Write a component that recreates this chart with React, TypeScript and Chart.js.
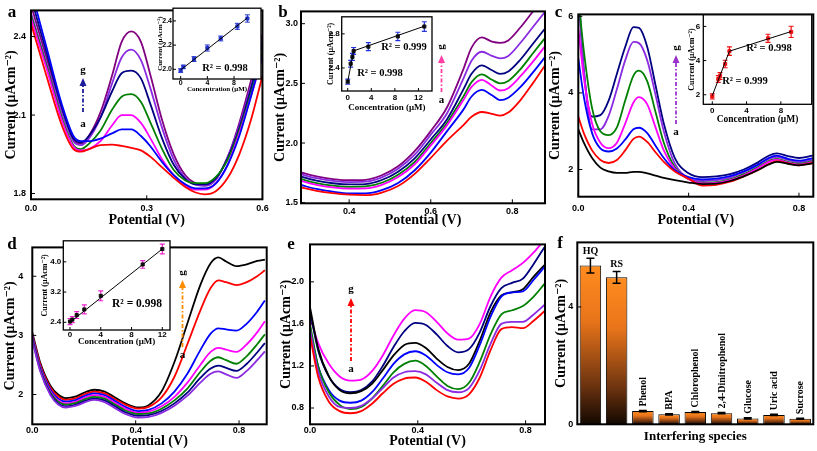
import React, { useEffect, useRef } from 'react';
import { Chart, registerables } from 'chart.js';
Chart.register(...registerables);

const SERIF = '"Liberation Serif", "Times New Roman", "DejaVu Serif", serif';
const SANS = '"Liberation Sans", Arial, "DejaVu Sans", sans-serif';

const RED = '#ff0000', BLUE = '#0000ff', MAGENTA = '#ff00ff', GREEN = '#008000', NAVY = '#000080', VIOLET = '#8a2be2', PURPLE = '#800080', BLACK = '#000000';

// ---------- Panel a ----------
const aX = [0, 0.04, 0.08, 0.11, 0.13, 0.15, 0.18, 0.21, 0.235, 0.26, 0.285, 0.31, 0.34, 0.37, 0.40, 0.425, 0.45, 0.48, 0.51, 0.54, 0.57, 0.6];
const aRed = [2.45, 2.25, 2.06, 1.97, 1.96, 1.97, 1.985, 1.987, 1.982, 1.975, 1.965, 1.94, 1.9, 1.86, 1.825, 1.805, 1.797, 1.81, 1.86, 1.95, 2.08, 2.25];
const aBlue = [2.58, 2.36, 2.14, 2.02, 2.0, 2.0, 2.01, 2.03, 2.045, 2.045, 2.02, 1.98, 1.92, 1.87, 1.835, 1.82, 1.82, 1.84, 1.91, 2.02, 2.17, 2.33];
const aMagenta = [2.47, 2.28, 2.08, 1.98, 1.965, 1.97, 2.0, 2.06, 2.1, 2.1, 2.07, 2.01, 1.93, 1.87, 1.83, 1.815, 1.815, 1.84, 1.91, 2.03, 2.17, 2.32];
const aGreen = [2.48, 2.29, 2.09, 1.985, 1.97, 1.99, 2.04, 2.12, 2.17, 2.18, 2.15, 2.07, 1.97, 1.89, 1.85, 1.84, 1.84, 1.865, 1.93, 2.04, 2.18, 2.34];
const aNavy = [2.55, 2.34, 2.13, 2.01, 1.995, 2.02, 2.09, 2.19, 2.26, 2.27, 2.24, 2.14, 2.01, 1.91, 1.855, 1.835, 1.835, 1.86, 1.935, 2.05, 2.2, 2.37];
const aViolet = [2.49, 2.3, 2.11, 2.0, 1.985, 2.01, 2.09, 2.22, 2.32, 2.35, 2.31, 2.2, 2.05, 1.93, 1.86, 1.835, 1.83, 1.855, 1.94, 2.06, 2.21, 2.39];
const aPurple = [2.52, 2.32, 2.12, 2.005, 1.99, 2.02, 2.11, 2.25, 2.38, 2.42, 2.38, 2.25, 2.08, 1.95, 1.87, 1.84, 1.83, 1.855, 1.94, 2.07, 2.23, 2.41];
const aXTicks = [0, 0.3, 0.6];
const aYTicks = [1.8, 2.1, 2.4];

// ---------- Panel b ----------
const bX = [0.28, 0.32, 0.36, 0.40, 0.44, 0.48, 0.52, 0.56, 0.60, 0.64, 0.68, 0.70, 0.725, 0.75, 0.77, 0.79, 0.82, 0.85, 0.88];
const bRed = [1.63, 1.6, 1.58, 1.567, 1.563, 1.585, 1.64, 1.74, 1.876, 2.02, 2.15, 2.22, 2.26, 2.245, 2.23, 2.255, 2.36, 2.5, 2.65];
const bBlue = [1.65, 1.615, 1.592, 1.578, 1.578, 1.605, 1.665, 1.77, 1.92, 2.1, 2.28, 2.39, 2.445, 2.4, 2.36, 2.38, 2.47, 2.59, 2.72];
const bMagenta = [1.685, 1.65, 1.628, 1.618, 1.62, 1.65, 1.715, 1.82, 1.98, 2.15, 2.36, 2.47, 2.53, 2.48, 2.44, 2.46, 2.56, 2.68, 2.81];
const bGreen = [1.7, 1.665, 1.643, 1.633, 1.636, 1.667, 1.735, 1.84, 2.0, 2.17, 2.39, 2.51, 2.575, 2.53, 2.5, 2.52, 2.62, 2.75, 2.88];
const bNavy = [1.72, 1.685, 1.663, 1.653, 1.656, 1.69, 1.76, 1.87, 2.03, 2.2, 2.45, 2.58, 2.65, 2.61, 2.58, 2.6, 2.7, 2.83, 2.96];
const bViolet = [1.74, 1.705, 1.683, 1.673, 1.676, 1.712, 1.785, 1.9, 2.07, 2.25, 2.54, 2.69, 2.765, 2.73, 2.71, 2.73, 2.84, 2.97, 3.1];
const bPurple = [1.755, 1.72, 1.698, 1.688, 1.692, 1.73, 1.805, 1.93, 2.1, 2.3, 2.62, 2.8, 2.885, 2.85, 2.84, 2.86, 2.97, 3.1, 3.22];
const bXTicks = [0.4, 0.6, 0.8];
const bYTicks = [1.5, 2.0, 2.5, 3.0];

// ---------- Panel c ----------
const cX = [0, 0.02, 0.05, 0.08, 0.11, 0.14, 0.17, 0.2, 0.22, 0.25, 0.28, 0.31, 0.35, 0.4, 0.45, 0.5, 0.55, 0.6, 0.65, 0.69, 0.72, 0.76, 0.8, 0.85];
const cBlack = [3.05, 2.7, 2.3, 2.05, 1.95, 1.91, 1.91, 1.94, 1.94, 1.9, 1.84, 1.78, 1.72, 1.66, 1.62, 1.63, 1.7, 1.82, 1.98, 2.13, 2.2, 2.15, 2.11, 2.16];
const cRed = [3.38, 2.95, 2.5, 2.25, 2.17, 2.25, 2.5, 2.8, 2.86, 2.72, 2.45, 2.2, 1.95, 1.76, 1.58, 1.6, 1.68, 1.82, 1.98, 2.14, 2.22, 2.16, 2.11, 2.17];
const cBlue = [4.9, 3.9, 2.95, 2.55, 2.47, 2.55, 2.78, 3.05, 3.09, 2.95, 2.62, 2.3, 1.98, 1.8, 1.74, 1.76, 1.83, 1.95, 2.12, 2.3, 2.36, 2.28, 2.23, 2.3];
const cMagenta = [5.7, 4.4, 3.2, 2.7, 2.56, 2.7, 3.2, 3.75, 3.89, 3.7, 3.1, 2.5, 2.02, 1.75, 1.64, 1.65, 1.72, 1.85, 2.03, 2.2, 2.26, 2.18, 2.13, 2.19];
const cGreen = [6.5, 5.1, 3.6, 3.0, 2.9, 3.1, 3.8, 4.45, 4.58, 4.3, 3.5, 2.7, 2.06, 1.75, 1.66, 1.67, 1.74, 1.88, 2.06, 2.22, 2.28, 2.2, 2.15, 2.21];
const cViolet = [6.6, 4.6, 3.05, 3.05, 3.4, 4.1, 4.85, 5.33, 5.3, 4.85, 3.95, 3.0, 2.15, 1.78, 1.7, 1.72, 1.79, 1.93, 2.11, 2.27, 2.33, 2.25, 2.19, 2.25];
const cNavy = [6.8, 4.6, 3.38, 3.42, 3.8, 4.5, 5.2, 5.72, 5.7, 5.2, 4.2, 3.2, 2.3, 1.9, 1.8, 1.82, 1.88, 2.0, 2.18, 2.36, 2.42, 2.35, 2.3, 2.36];
const cXTicks = [0, 0.4, 0.8];
const cYTicks = [2, 4, 6];

// ---------- Panel d ----------
const dX = [0, 0.03, 0.07, 0.1, 0.13, 0.17, 0.21, 0.24, 0.28, 0.32, 0.36, 0.41, 0.45, 0.5, 0.55, 0.6, 0.65, 0.69, 0.72, 0.75, 0.79, 0.83, 0.87, 0.9];
const dBlack = [3.05, 2.55, 2.15, 2.0, 1.94, 1.97, 2.05, 2.08, 2.05, 1.95, 1.85, 1.78, 1.82, 2.05, 2.55, 3.2, 3.85, 4.22, 4.32, 4.25, 4.17, 4.2, 4.26, 4.28];
const dRed = [3.02, 2.52, 2.12, 1.97, 1.91, 1.94, 2.02, 2.05, 2.02, 1.92, 1.83, 1.76, 1.79, 1.95, 2.3, 2.85, 3.42, 3.8, 3.93, 3.9, 3.85, 3.9, 4.0, 4.1];
const dBlue = [3.0, 2.48, 2.08, 1.93, 1.88, 1.91, 1.99, 2.02, 1.99, 1.89, 1.79, 1.72, 1.74, 1.85, 2.05, 2.35, 2.75, 3.03, 3.12, 3.1, 3.08, 3.2, 3.4, 3.59];
const dMagenta = [2.98, 2.46, 2.05, 1.9, 1.85, 1.88, 1.96, 1.99, 1.96, 1.86, 1.76, 1.69, 1.71, 1.8, 1.96, 2.2, 2.5, 2.72, 2.79, 2.76, 2.72, 2.85, 3.05, 3.24];
const dGreen = [2.96, 2.44, 2.03, 1.88, 1.83, 1.86, 1.93, 1.96, 1.93, 1.83, 1.73, 1.67, 1.68, 1.76, 1.9, 2.1, 2.38, 2.57, 2.63, 2.58, 2.52, 2.65, 2.85, 3.02];
const dNavy = [2.94, 2.42, 2.01, 1.85, 1.8, 1.83, 1.9, 1.93, 1.9, 1.8, 1.7, 1.64, 1.65, 1.72, 1.85, 2.03, 2.28, 2.44, 2.49, 2.45, 2.4, 2.52, 2.71, 2.87];
const dViolet = [2.92, 2.4, 1.99, 1.83, 1.78, 1.81, 1.88, 1.91, 1.87, 1.77, 1.67, 1.61, 1.62, 1.69, 1.81, 1.98, 2.2, 2.35, 2.39, 2.34, 2.28, 2.4, 2.58, 2.73];
const dXTicks = [0, 0.4, 0.8];
const dYTicks = [2, 3, 4];

// ---------- Panel e ----------
const eX = [0, 0.03, 0.07, 0.11, 0.15, 0.19, 0.23, 0.27, 0.31, 0.35, 0.39, 0.43, 0.47, 0.51, 0.55, 0.59, 0.63, 0.67, 0.71, 0.75, 0.79, 0.83, 0.87];
const eMagenta = [1.67, 1.42, 1.22, 1.1, 1.06, 1.07, 1.15, 1.3, 1.49, 1.65, 1.73, 1.71, 1.62, 1.51, 1.45, 1.46, 1.6, 1.86, 2.04, 2.11, 2.18, 2.28, 2.4];
const eNavy = [1.72, 1.35, 1.1, 0.98, 0.95, 0.97, 1.05, 1.2, 1.38, 1.53, 1.61, 1.59, 1.5, 1.39, 1.33, 1.36, 1.52, 1.77, 1.94, 1.99, 2.03, 2.17, 2.33];
const eBlack = [1.76, 1.37, 1.1, 0.97, 0.94, 0.96, 1.03, 1.16, 1.3, 1.4, 1.42, 1.37, 1.27, 1.19, 1.16, 1.22, 1.44, 1.71, 1.87, 1.9, 1.93, 2.05, 2.16];
const eBlue = [1.55, 1.2, 0.97, 0.87, 0.85, 0.87, 0.95, 1.08, 1.22, 1.31, 1.34, 1.3, 1.21, 1.14, 1.12, 1.18, 1.4, 1.67, 1.86, 1.9, 1.91, 2.02, 2.14];
const eGreen = [1.6, 1.2, 0.95, 0.83, 0.79, 0.81, 0.89, 1.01, 1.14, 1.22, 1.25, 1.2, 1.1, 1.01, 0.98, 1.04, 1.24, 1.5, 1.69, 1.73, 1.77, 1.86, 1.98];
const eViolet = [1.55, 1.15, 0.91, 0.81, 0.8, 0.82, 0.89, 0.99, 1.09, 1.14, 1.15, 1.12, 1.04, 0.97, 0.95, 0.99, 1.16, 1.41, 1.6, 1.62, 1.62, 1.69, 1.78];
const eRed = [1.49, 1.1, 0.86, 0.77, 0.75, 0.77, 0.84, 0.94, 1.03, 1.08, 1.09, 1.05, 0.97, 0.91, 0.89, 0.93, 1.09, 1.35, 1.55, 1.57, 1.56, 1.63, 1.72];
const eXTicks = [0, 0.4, 0.8];
const eYTicks = [0.8, 1.2, 1.6, 2.0];

// ---------- Panel f ----------
const fSpecies = ['HQ', 'RS', 'Phenol', 'BPA', 'Chlorophenol', '2,4-Dinitrophenol', 'Glucose', 'Uric acid', 'Sucrose'];
const fCurrent = [5.41, 5.01, 0.45, 0.34, 0.42, 0.38, 0.2, 0.32, 0.19];
const fError = [0.25, 0.2, 0.02, 0.02, 0.02, 0.02, 0.02, 0.02, 0.02];
const fYTicks = [0, 4];

// ---------- Insets ----------
const aInsConc = [0, 0.4, 2, 4, 6, 8.5, 10];
const aInsCur = [1.99, 2.02, 2.085, 2.176, 2.255, 2.355, 2.42];
const aInsErr = [0.015, 0.015, 0.02, 0.025, 0.02, 0.025, 0.03];
const aFitX = [0, 10];
const aFitY = [1.995, 2.425];
const aInsXTicks = [0, 4, 8];
const aInsYTicks = [2.0, 2.2, 2.4];

const bInsConc = [0, 0.5, 0.8, 1.0, 3.5, 8.5, 13];
const bInsCur = [2.24, 2.45, 2.53, 2.6, 2.65, 2.77, 2.886];
const bInsErr = [0.03, 0.04, 0.04, 0.04, 0.047, 0.049, 0.056];
const bFit1X = [0, 1.0];
const bFit1Y = [2.24, 2.6];
const bFit2X = [1.0, 13];
const bFit2Y = [2.6, 2.89];
const bInsXTicks = [0, 4, 8, 12];
const bInsYTicks = [2.4, 2.8];

const cInsConc = [0, 0.7, 0.9, 1.5, 2.0, 6.5, 9.2];
const cInsCur = [1.9, 2.92, 3.1, 3.8, 4.55, 5.3, 5.68];
const cInsErr = [0.15, 0.2, 0.2, 0.22, 0.25, 0.24, 0.33];
const cFit1X = [0, 2.0];
const cFit1Y = [1.95, 4.55];
const cFit2X = [2.0, 9.2];
const cFit2Y = [4.55, 5.7];
const cInsXTicks = [0, 4, 8];
const cInsYTicks = [2, 4, 6];

const dInsConc = [0, 0.3, 0.87, 1.86, 4, 9.45, 12];
const dInsCur = [2.42, 2.47, 2.59, 2.74, 3.1, 3.93, 4.34];
const dInsErr = [0.08, 0.08, 0.09, 0.12, 0.13, 0.1, 0.13];
const dFitX = [0, 12];
const dFitY = [2.4, 4.34];
const dInsXTicks = [0, 4, 8, 12];
const dInsYTicks = [2.4, 3.2, 4.0];

// ---------- helpers ----------
type Area = { l: number; t: number; r: number; b: number };
type Geom = { left: number; top: number; width: number; height: number; yW: number; xH: number; pt: number; pr: number; yTitlePad: number; xTitlePad: number };

function geom(a: Area, yTitleX: number, xTitleY: number, yLH: number, xLH: number): Geom {
  const left = Math.floor(yTitleX - yLH / 2 - 1);
  const top = Math.floor(a.t - 3);
  const right = Math.ceil(a.r + 3);
  const bottom = Math.ceil(xTitleY + xLH / 2 + 1);
  return {
    left, top, width: right - left, height: bottom - top,
    yW: a.l - left, xH: bottom - a.b, pt: a.t - top, pr: right - a.r,
    yTitlePad: yTitleX - left - yLH / 2, xTitlePad: bottom - xTitleY - xLH / 2,
  };
}

const pts = (xs: number[], ys: number[]) => xs.map((x, i) => ({ x, y: ys[i] }));
const curve = (xs: number[], ys: number[], color: string) => ({
  data: pts(xs, ys), borderColor: color, borderWidth: 1.8, pointRadius: 0,
  cubicInterpolationMode: 'monotone', fill: false,
});
const fitLine = (xs: number[], ys: number[]) => ({
  data: pts(xs, ys), borderColor: '#000', borderWidth: 1, pointRadius: 0, tension: 0, fill: false,
});
const markers = (xs: number[], ys: number[], color: string) => ({
  data: pts(xs, ys), showLine: false, pointStyle: 'rect', pointRadius: 2.2,
  pointBackgroundColor: color, pointBorderColor: color, borderColor: color, backgroundColor: color,
});

function axis(o: any) {
  return {
    type: 'linear', min: o.min, max: o.max,
    afterFit: (s: any) => { if (o.horizontal) s.height = o.size; else s.width = o.size; },
    afterBuildTicks: (s: any) => { s.ticks = o.ticks.map((v: number) => ({ value: v })); },
    grid: { display: false, drawTicks: false },
    border: { display: false },
    ticks: {
      padding: o.tickPad, font: o.tickFont, color: '#000', autoSkip: false, maxRotation: 0,
      callback: (v: any) => Number(v).toFixed(o.digits),
    },
    title: {
      display: true, text: o.title, font: o.titleFont, color: '#000',
      padding: o.horizontal ? { top: 0, bottom: o.titlePad } : { top: o.titlePad, bottom: 0 },
    },
  };
}

type Txt = { text: string; x: number; y: number; font: string; rot?: number; color?: string };

function decoPlugin(d: any) {
  const drawErr = (chart: any) => {
    const e = d.err;
    if (!e) return;
    const { ctx } = chart;
    const xs = chart.scales.x, ys = chart.scales.y;
    const meta = chart.getDatasetMeta(0);
    ctx.save();
    ctx.strokeStyle = e.color;
    ctx.lineWidth = e.lw;
    e.ys.forEach((v: number, i: number) => {
      const px = e.xs ? xs.getPixelForValue(e.xs[i]) : meta.data[i].x;
      const p1 = ys.getPixelForValue(v + e.errs[i]);
      const p2 = ys.getPixelForValue(v - e.errs[i]);
      ctx.beginPath();
      ctx.moveTo(px, p1); ctx.lineTo(px, p2);
      ctx.moveTo(px - e.cap, p1); ctx.lineTo(px + e.cap, p1);
      ctx.moveTo(px - e.cap, p2); ctx.lineTo(px + e.cap, p2);
      ctx.stroke();
    });
    ctx.restore();
  };
  return {
    id: 'deco',
    beforeDraw(chart: any) {
      if (!d.fill) return;
      const { ctx, chartArea: a } = chart;
      ctx.save();
      ctx.fillStyle = '#fff';
      ctx.fillRect(a.left, a.top, a.right - a.left, a.bottom - a.top);
      ctx.restore();
    },
    beforeDatasetsDraw(chart: any) { if (!d.errOnTop) drawErr(chart); },
    afterDatasetsDraw(chart: any) {
      if (d.errOnTop) drawErr(chart);
      const bl = d.barLabels;
      if (bl) {
        const { ctx } = chart;
        const meta = chart.getDatasetMeta(0);
        const ys = chart.scales.y;
        ctx.save();
        ctx.font = bl.font;
        ctx.fillStyle = '#000';
        bl.labels.forEach((lab: string, i: number) => {
          const el = meta.data[i];
          const top = ys.getPixelForValue(bl.values[i] + bl.errs[i]);
          if (lab.length <= 2) {
            ctx.textAlign = 'center'; ctx.textBaseline = 'alphabetic';
            ctx.fillText(lab, el.x, top - 4);
          } else {
            ctx.save();
            ctx.translate(el.x + 0.5, top - 4);
            ctx.rotate(-Math.PI / 2);
            ctx.textAlign = 'left'; ctx.textBaseline = 'middle';
            ctx.fillText(lab, 0, 0);
            ctx.restore();
          }
        });
        ctx.restore();
      }
    },
    afterDraw(chart: any) {
      const { ctx, chartArea: a } = chart;
      const xs = chart.scales.x, ys = chart.scales.y;
      ctx.save();
      ctx.strokeStyle = '#000';
      ctx.lineWidth = d.frame;
      ctx.strokeRect(a.left, a.top, a.right - a.left, a.bottom - a.top);
      ctx.lineWidth = 1;
      ctx.beginPath();
      if (xs.type === 'linear') {
        for (const t of xs.ticks) {
          const p = xs.getPixelForValue(t.value);
          ctx.moveTo(p, a.bottom); ctx.lineTo(p, a.bottom - d.tick);
        }
      }
      for (const t of ys.ticks) {
        const p = ys.getPixelForValue(t.value);
        ctx.moveTo(a.left, p); ctx.lineTo(a.left + d.tick, p);
      }
      ctx.stroke();
      ctx.translate(-d.ox, -d.oy);
      if (d.arrow) {
        const ar = d.arrow;
        ctx.strokeStyle = ar.color;
        ctx.fillStyle = ar.color;
        ctx.lineWidth = 1.8;
        ctx.setLineDash([4, 2, 1.5, 2]);
        ctx.beginPath();
        ctx.moveTo(ar.x, ar.tail); ctx.lineTo(ar.x, ar.tip + 6);
        ctx.stroke();
        ctx.setLineDash([]);
        ctx.beginPath();
        ctx.moveTo(ar.x, ar.tip); ctx.lineTo(ar.x - 3.5, ar.tip + 8); ctx.lineTo(ar.x + 3.5, ar.tip + 8);
        ctx.closePath();
        ctx.fill();
      }
      for (const t of (d.texts || []) as Txt[]) {
        ctx.save();
        ctx.font = t.font;
        ctx.fillStyle = t.color || '#000';
        ctx.textAlign = 'center';
        ctx.textBaseline = 'middle';
        ctx.translate(t.x, t.y);
        if (t.rot) ctx.rotate(t.rot);
        ctx.fillText(t.text, 0, 0);
        ctx.restore();
      }
      ctx.restore();
    },
  };
}

const TICK_MAIN = { family: SANS, size: 9, weight: 'bold' };
const TITLE_MAIN = { family: SERIF, size: 14, weight: 'bold' };
const LETTER = `bold 17px ${SERIF}`;
const AG = `bold 11px ${SERIF}`;
const R2 = `bold 10.5px ${SERIF}`;
const Y_TITLE = 'Current (μAcm⁻²)';
const ROT = -Math.PI / 2;

function lineConfig(s: any) {
  const g: Geom = s.g;
  return {
    type: 'line',
    data: { datasets: s.datasets },
    options: {
      responsive: false, animation: false, devicePixelRatio: 1, events: [],
      layout: { padding: { left: 0, top: g.pt, right: g.pr, bottom: 0 }, autoPadding: false },
      plugins: { legend: { display: false }, tooltip: { enabled: false } },
      scales: {
        x: axis({ ...s.x, horizontal: true, size: g.xH, titlePad: g.xTitlePad }),
        y: axis({ ...s.y, horizontal: false, size: g.yW, titlePad: g.yTitlePad }),
      },
    },
    plugins: [decoPlugin({ ...s.deco, ox: g.left, oy: g.top })],
  };
}

function mainPanel(g: Geom, xr: number[], yr: number[], xt: number[], yt: number[], xd: number, yd: number, xPad: number, yPad: number, datasets: any[], deco: any) {
  return lineConfig({
    g, datasets,
    x: { min: xr[0], max: xr[1], ticks: xt, digits: xd, tickPad: xPad, tickFont: TICK_MAIN, title: 'Potential (V)', titleFont: TITLE_MAIN },
    y: { min: yr[0], max: yr[1], ticks: yt, digits: yd, tickPad: yPad, tickFont: TICK_MAIN, title: Y_TITLE, titleFont: TITLE_MAIN },
    deco: { frame: 2, tick: 4, ...deco },
  });
}

function insetPanel(g: Geom, xr: number[], yr: number[], xt: number[], yt: number[], yd: number, tickSize: number, yTitleSize: number, xTitleSize: number, xPad: number, yPad: number, datasets: any[], err: any, texts: Txt[]) {
  return lineConfig({
    g, datasets,
    x: { min: xr[0], max: xr[1], ticks: xt, digits: 0, tickPad: xPad, tickFont: { family: SANS, size: tickSize, weight: 'bold' }, title: 'Concentration (μM)', titleFont: { family: SERIF, size: xTitleSize, weight: 'bold' } },
    y: { min: yr[0], max: yr[1], ticks: yt, digits: yd, tickPad: yPad, tickFont: { family: SANS, size: tickSize, weight: 'bold' }, title: Y_TITLE, titleFont: { family: SERIF, size: yTitleSize, weight: 'bold' } },
    deco: { frame: 1.3, tick: 3, fill: true, err, texts },
  });
}

// ---------- geometries ----------
const gA = geom({ l: 31, t: 3.3, r: 270, b: 199.3 }, 11, 220, 16.8, 16.8);
const gB = geom({ l: 301, t: 6.7, r: 545, b: 203.3 }, 280, 220.7, 16.8, 16.8);
const gC = geom({ l: 578.3, t: 7.3, r: 813.3, b: 196.7 }, 555, 220, 16.8, 16.8);
const gD = geom({ l: 32.3, t: 236.7, r: 266.7, b: 424.3 }, 10, 441.7, 16.8, 16.8);
const gE = geom({ l: 310, t: 236.7, r: 545, b: 424.3 }, 286, 441.7, 16.8, 16.8);
const gF = geom({ l: 577.3, t: 236.7, r: 813.3, b: 424.3 }, 561.7, 436.7, 16.8, 15.6);
const gAi = geom({ l: 173, t: 6, r: 261, b: 79 }, 160, 89, 8.4, 8.4);
const gBi = geom({ l: 341.7, t: 13, r: 432, b: 91 }, 331, 107.3, 9.6, 10.8);
const gCi = geom({ l: 703.3, t: 10, r: 811.7, b: 104.3 }, 691.7, 120, 9.6, 11.4);
const gDi = geom({ l: 63.3, t: 237.5, r: 170, b: 330 }, 45, 341.7, 9.6, 10.8);

const agTexts = (x: number, gy: number, ay: number, rotG: boolean): Txt[] => [
  { text: 'g', x, y: gy, font: AG, rot: rotG ? ROT : 0 },
  { text: 'a', x, y: ay, font: AG },
];

const cfgA = () => mainPanel(gA, [0, 0.6], [1.778, 2.5], aXTicks, aYTicks, 1, 1, 4.3, 5, [
  curve(aX, aRed, RED), curve(aX, aBlue, BLUE), curve(aX, aMagenta, MAGENTA), curve(aX, aGreen, GREEN),
  curve(aX, aNavy, NAVY), curve(aX, aViolet, VIOLET), curve(aX, aPurple, PURPLE),
], {
  arrow: { x: 83, tail: 112, tip: 78, color: '#1c1c9c' },
  texts: [{ text: 'a', x: 12, y: 13, font: LETTER }, ...agTexts(83, 70, 124, false)],
});

const cfgB = () => mainPanel(gB, [0.282, 0.88], [1.495, 3.103], bXTicks, bYTicks, 1, 1, 3, 3, [
  curve(bX, bRed, RED), curve(bX, bBlue, BLUE), curve(bX, bMagenta, MAGENTA), curve(bX, bGreen, GREEN),
  curve(bX, bNavy, NAVY), curve(bX, bViolet, VIOLET), curve(bX, bPurple, PURPLE),
], {
  arrow: { x: 441.5, tail: 92, tip: 55, color: '#ff3fa4' },
  texts: [{ text: 'b', x: 283, y: 13, font: LETTER }, ...agTexts(441.5, 47, 100, true)],
});

const cfgC = () => mainPanel(gC, [0, 0.852], [1.29, 6.05], cXTicks, cYTicks, 1, 0, 6.9, 5, [
  curve(cX, cBlack, BLACK), curve(cX, cRed, RED), curve(cX, cBlue, BLUE), curve(cX, cMagenta, MAGENTA),
  curve(cX, cGreen, GREEN), curve(cX, cViolet, VIOLET), curve(cX, cNavy, NAVY),
], {
  arrow: { x: 676, tail: 124, tip: 55, color: '#9932cc' },
  texts: [{ text: 'c', x: 558.5, y: 13, font: LETTER }, ...agTexts(676, 48, 132, true)],
});

const cfgD = () => mainPanel(gD, [0, 0.907], [1.496, 4.488], dXTicks, dYTicks, 1, 0, 1.3, 9, [
  curve(dX, dViolet, VIOLET), curve(dX, dNavy, NAVY), curve(dX, dGreen, GREEN), curve(dX, dMagenta, MAGENTA),
  curve(dX, dBlue, BLUE), curve(dX, dRed, RED), curve(dX, dBlack, BLACK),
], {
  arrow: { x: 182.5, tail: 347, tip: 280, color: '#ff8c00' },
  texts: [{ text: 'd', x: 12, y: 245, font: LETTER }, ...agTexts(182.5, 273, 355, true)],
});

const cfgE = () => mainPanel(gE, [0, 0.872], [0.645, 2.356], eXTicks, eYTicks, 1, 1, 0.5, 6, [
  curve(eX, eRed, RED), curve(eX, eViolet, VIOLET), curve(eX, eGreen, GREEN), curve(eX, eBlue, BLUE),
  curve(eX, eBlack, BLACK), curve(eX, eNavy, NAVY), curve(eX, eMagenta, MAGENTA),
], {
  arrow: { x: 351, tail: 361, tip: 298, color: '#ff0000' },
  texts: [{ text: 'e', x: 291, y: 245, font: LETTER }, ...agTexts(351, 289, 369, false)],
});

const barGrad = (c: any) => {
  const chart = c.chart;
  const ys = chart.scales && chart.scales.y;
  if (!chart.chartArea || !ys || c.raw == null) return '#f7861c';
  const top = ys.getPixelForValue(c.raw);
  const bot = ys.getPixelForValue(0);
  const gr = chart.ctx.createLinearGradient(0, top, 0, bot);
  gr.addColorStop(0, '#ff8c1f');
  gr.addColorStop(0.35, '#e8741a');
  gr.addColorStop(0.75, '#6e3410');
  gr.addColorStop(1, '#120800');
  return gr;
};

const cfgF = () => ({
  type: 'bar',
  data: {
    labels: fSpecies,
    datasets: [{ data: fCurrent, backgroundColor: barGrad, borderColor: '#000', borderWidth: 1, barPercentage: 0.82, categoryPercentage: 1 }],
  },
  options: {
    responsive: false, animation: false, devicePixelRatio: 1, events: [],
    layout: { padding: { left: 0, top: gF.pt, right: gF.pr, bottom: 0 }, autoPadding: false },
    plugins: { legend: { display: false }, tooltip: { enabled: false } },
    scales: {
      x: {
        type: 'category', offset: true,
        afterFit: (s: any) => { s.height = gF.xH; },
        grid: { display: false, drawTicks: false }, border: { display: false },
        ticks: { display: false },
        title: { display: true, text: 'Interfering species', color: '#000', font: { family: SERIF, size: 13, weight: 'bold' }, padding: { top: 0, bottom: gF.xTitlePad } },
      },
      y: axis({ min: 0, max: 6.2, ticks: fYTicks, digits: 0, tickPad: 4, tickFont: TICK_MAIN, title: Y_TITLE, titleFont: TITLE_MAIN, horizontal: false, size: gF.yW, titlePad: gF.yTitlePad }),
    },
  },
  plugins: [decoPlugin({
    ox: gF.left, oy: gF.top, frame: 2, tick: 4, errOnTop: true,
    err: { xs: null, ys: fCurrent, errs: fError, color: '#000', cap: 4, lw: 1.5 },
    barLabels: { labels: fSpecies, values: fCurrent, errs: fError, font: `bold 10px ${SERIF}` },
    texts: [{ text: 'f', x: 560, y: 244, font: LETTER }],
  })],
});

const cfgAi = () => insetPanel(gAi, [-1.15, 12.04], [1.92, 2.505], aInsXTicks, aInsYTicks, 1, 7, 7, 7, 0, 1, [
  fitLine(aFitX, aFitY), markers(aInsConc, aInsCur, '#2233cc'),
], { xs: aInsConc, ys: aInsCur, errs: aInsErr, color: '#2233cc', cap: 2.5, lw: 1 }, [
  { text: 'R² = 0.998', x: 225, y: 68, font: R2 },
]);

const cfgBi = () => insetPanel(gBi, [-1.02, 14.3], [2.13, 3.0], bInsXTicks, bInsYTicks, 1, 8, 8, 9, 2.2, 2, [
  fitLine(bFit1X, bFit1Y), fitLine(bFit2X, bFit2Y), markers(bInsConc, bInsCur, '#111'),
], { xs: bInsConc, ys: bInsCur, errs: bInsErr, color: '#2233dd', cap: 2.5, lw: 1.2 }, [
  { text: 'R² = 0.999', x: 404, y: 47, font: R2 },
  { text: 'R² = 0.998', x: 380, y: 73, font: R2 },
]);

const cfgCi = () => insetPanel(gCi, [-1.05, 11.6], [1.44, 6.68], cInsXTicks, cInsYTicks, 0, 8, 8, 9.5, 1.9, 3, [
  fitLine(cFit1X, cFit1Y), fitLine(cFit2X, cFit2Y), markers(cInsConc, cInsCur, '#ee1111'),
], { xs: cInsConc, ys: cInsCur, errs: cInsErr, color: '#ee1111', cap: 2.5, lw: 1.2 }, [
  { text: 'R² = 0.998', x: 769, y: 48, font: R2 },
  { text: 'R² = 0.999', x: 745, y: 81, font: R2 },
]);

const cfgDi = () => insetPanel(gDi, [-0.87, 13.0], [2.196, 4.556], dInsXTicks, dInsYTicks, 1, 8, 8, 9, 0.2, 2, [
  fitLine(dFitX, dFitY), markers(dInsConc, dInsCur, '#111'),
], { xs: dInsConc, ys: dInsCur, errs: dInsErr, color: '#ee22cc', cap: 2.5, lw: 1.2 }, [
  { text: 'R² = 0.998', x: 137, y: 304, font: `bold 11.5px ${SERIF}` },
]);

function ChartCanvas({ g, make }: { g: Geom; make: () => any }) {
  const ref = useRef<HTMLCanvasElement>(null);
  useEffect(() => {
    const chart = new Chart(ref.current as HTMLCanvasElement, make() as any);
    return () => chart.destroy();
  }, []);
  return (
    <canvas
      ref={ref}
      width={g.width}
      height={g.height}
      style={{ position: 'absolute', left: g.left, top: g.top, width: g.width, height: g.height }}
    />
  );
}

export default function App() {
  return (
    <div style={{ position: 'absolute', left: 0, top: 0, width: 817, height: 451, background: '#fff', overflow: 'hidden' }}>
      <ChartCanvas g={gA} make={cfgA} />
      <ChartCanvas g={gB} make={cfgB} />
      <ChartCanvas g={gC} make={cfgC} />
      <ChartCanvas g={gD} make={cfgD} />
      <ChartCanvas g={gE} make={cfgE} />
      <ChartCanvas g={gF} make={cfgF} />
      <ChartCanvas g={gAi} make={cfgAi} />
      <ChartCanvas g={gBi} make={cfgBi} />
      <ChartCanvas g={gCi} make={cfgCi} />
      <ChartCanvas g={gDi} make={cfgDi} />
    </div>
  );
}
